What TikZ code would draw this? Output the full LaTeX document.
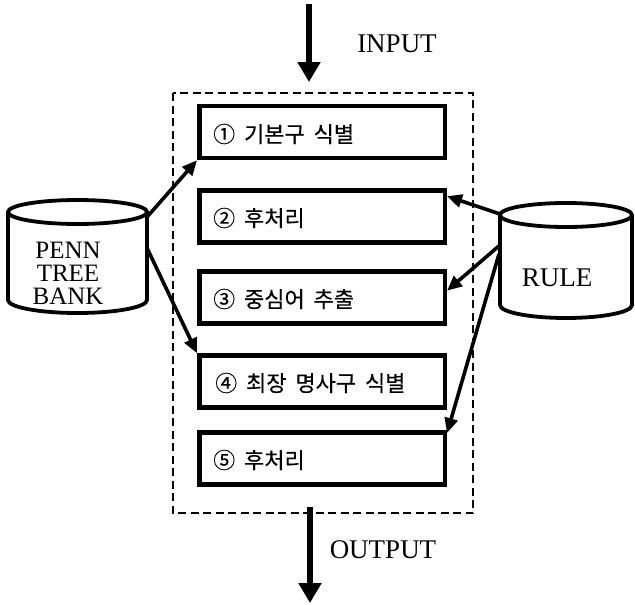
\documentclass[tikz,border=0pt]{standalone}
\usepackage{fontspec}
\setmainfont{Liberation Serif}
\newfontfamily\kor[WordSpace=1.8,FakeBold=0.25]{Noto Sans CJK KR}
\usetikzlibrary{arrows.meta,calc}
\begin{document}
\begin{tikzpicture}[x=1pt,y=-1pt,
  stagebox/.style={draw,line width=4.5pt,minimum width=245.5pt,minimum height=52pt,inner sep=0pt},
  stagetext/.style={anchor=west,font=\kor\fontsize{22}{26}\selectfont,inner sep=0pt},
  dbline/.style={line width=3.8pt},
  link/.style={line width=3.6pt,-{Triangle[length=15pt,width=13pt]}},
  flow/.style={line width=5.5pt,-{Triangle[length=20pt,width=22pt]}},
  frame/.style={line width=1.8pt,dash pattern=on 8pt off 4.5pt},
  lbl/.style={font=\fontsize{27}{27}\selectfont,inner sep=0pt}]
\useasboundingbox (0,0) rectangle (635,605);

% dashed frame around the processing stages
\draw[frame] (173,93) rectangle (473,513);

% processing stages
\node[stagebox] (b1) at (322,132) {};
\node[stagebox] (b2) at (322,216.5) {};
\node[stagebox] (b3) at (322,297.5) {};
\node[stagebox] (b4) at (322,381.5) {};
\node[stagebox] (b5) at (322,458.5) {};
\node[stagetext] (t1) at (213,134) {① 기본구 식별};
\node[stagetext] (t2) at (213,218) {② 후처리};
\node[stagetext] (t3) at (213,299) {③ 중심어 추출};
\node[stagetext] (t4) at (215,383) {④ 최장 명사구 식별};
\node[stagetext] (t5) at (213,460) {⑤ 후처리};

% PENN TREE BANK database
\draw[dbline] (8,212) -- (8,300) arc (180:360:69.5pt and 13pt) -- (147,212);
\draw[dbline] (77.5,212) ellipse [x radius=69.5pt, y radius=12pt];
\node[align=center,font=\fontsize{25}{23}\selectfont,inner sep=0pt] (penn) at (68,273) {PENN\\TREE\\BANK};
\coordinate (pennA) at (147,217);
\coordinate (pennB) at (147,248);

% RULE database
\draw[dbline] (500,215) -- (500,305) arc (180:360:66pt and 13pt) -- (632,215);
\draw[dbline] (566,215) ellipse [x radius=66pt, y radius=12pt];
\node[lbl] (rule) at (557,278) {RULE};
\coordinate (ruleA) at (500,214);
\coordinate (ruleB) at (500,245);
\coordinate (ruleC) at (499,254);

% connectors from the databases to the stages
\draw[link] (pennA) -- (b1.south west);
\draw[link] (pennB) -- (b4.north west);
\draw[link] (ruleA) -- ($(b2.north east)!0.14!(b2.south east)$);
\draw[link] (ruleB) -- ($(b3.north east)!0.38!(b3.south east)$);
\draw[link] (ruleC) -- ($(b5.north east)!0.05!(b5.south east)$);

% input and output
\coordinate (inS) at (309,4);
\coordinate (inE) at (309,82);
\coordinate (outS) at (310,507);
\coordinate (outE) at (310,603);
\draw[flow] (inS) -- (inE);
\draw[flow] (outS) -- (outE);
\node[lbl] (input) at (397,44) {INPUT};
\node[lbl] (output) at (383,550) {OUTPUT};
\end{tikzpicture}
\end{document}
